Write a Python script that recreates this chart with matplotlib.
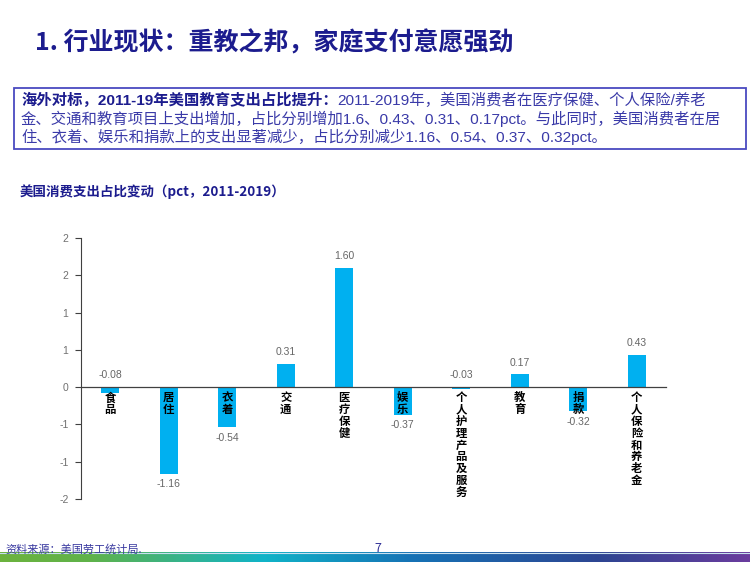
import matplotlib
matplotlib.use("Agg")
import matplotlib.pyplot as plt
import numpy as np
from matplotlib.colors import LinearSegmentedColormap
from matplotlib.patches import Rectangle

plt.rcParams['font.family'] = ['Noto Sans CJK SC', 'DejaVu Sans']
latin_cjk = ['Liberation Sans', 'Noto Sans CJK SC']

# ---- data ----
categories = ["食品", "居住", "衣着", "交通", "医疗保健", "娱乐",
              "个人护理产品及服务", "教育", "捐款", "个人保险和养老金"]
values = [-0.08, -1.16, -0.54, 0.31, 1.60, -0.37, -0.03, 0.17, -0.32, 0.43]
value_labels = ["-0.08", "-1.16", "-0.54", "0.31", "1.60", "-0.37",
                "-0.03", "0.17", "-0.32", "0.43"]
yticks = [2.0, 1.5, 1.0, 0.5, 0.0, -0.5, -1.0, -1.5]
ytick_labels = ["2", "2", "1", "1", "0", "-1", "-1", "-2"]

title = "1. 行业现状：重教之邦，家庭支付意愿强劲"
box_bold = "海外对标，2011-19年美国教育支出占比提升："
box_line1 = "2011-2019年，美国消费者在医疗保健、个人保险/养老"
box_line2 = "金、交通和教育项目上支出增加，占比分别增加1.6、0.43、0.31、0.17pct。与此同时，美国消费者在居"
box_line3 = "住、衣着、娱乐和捐款上的支出显著减少，占比分别减少1.16、0.54、0.37、0.32pct。"
subtitle = "美国消费支出占比变动（pct，2011-2019）"
source = "资料来源：美国劳工统计局."
page_no = "7"

W, H = 750, 562
fig = plt.figure(figsize=(7.5, 5.62), dpi=100)

def fx(px):
    return px / W

def fy(py):
    return 1 - py / H

navy = "#1c1c8e"
boxblue = "#3a3aa8"

# title
fig.text(fx(35), fy(43), title, fontsize=18, fontweight='bold', color=navy,
         va='center', ha='left')

# text box
fig.patches.append(Rectangle((fx(14), fy(149)), fx(746) - fx(14), fy(88) - fy(149),
                             transform=fig.transFigure, fill=False,
                             edgecolor="#4a4ac0", linewidth=1.3))
bfs = 11.05
t1 = fig.text(fx(21), fy(100), box_bold, fontsize=bfs, fontweight='bold',
              color=navy, va='center', ha='left', family=latin_cjk)
fig.canvas.draw()
r = fig.canvas.get_renderer()
bb = t1.get_window_extent(renderer=r)
fig.text(bb.x1 / W, fy(100), box_line1, fontsize=bfs, color=boxblue,
         va='center', ha='left', family=latin_cjk)
fig.text(fx(21), fy(119), box_line2, fontsize=bfs, color=boxblue,
         va='center', ha='left', family=latin_cjk)
fig.text(fx(21), fy(137), box_line3, fontsize=bfs, color=boxblue,
         va='center', ha='left', family=latin_cjk)

# subtitle
fig.text(fx(20), fy(192), subtitle, fontsize=9.7, fontweight='bold', color=navy,
         va='center', ha='left')

# chart axes
ax = fig.add_axes([fx(81), fy(499), fx(666) - fx(81), fy(238) - fy(499)])
x = np.arange(len(categories))
ax.bar(x, values, width=0.31, color="#00B0F0", zorder=2)
ax.set_xlim(-0.5, len(categories) - 0.5)
ax.set_ylim(-1.5, 2.0)
ax.set_yticks(yticks)
ax.set_yticklabels(ytick_labels, family='Liberation Sans')
ax.tick_params(axis='y', direction='out', length=4, width=0.8, colors="#404040",
               labelcolor="#707070", labelsize=7.5, pad=5)
ax.set_xticks([])
for s in ['top', 'right']:
    ax.spines[s].set_visible(False)
ax.spines['left'].set_color("#404040")
ax.spines['left'].set_linewidth(0.8)
ax.spines['bottom'].set_position(('data', 0))
ax.spines['bottom'].set_color("#404040")
ax.spines['bottom'].set_linewidth(0.9)
ax.spines['bottom'].set_zorder(3)
ax.patch.set_visible(False)

for xi, v, lab in zip(x, values, value_labels):
    if v >= 0 or abs(v) < 0.1:
        base = max(v, 0)
        ax.annotate(lab, (xi, base), xytext=(0, 5), textcoords='offset points',
                    ha='center', va='bottom', fontsize=7.5, color="#666666",
                    family='Liberation Sans')
    else:
        ax.annotate(lab, (xi, v), xytext=(0, -4), textcoords='offset points',
                    ha='center', va='top', fontsize=7.5, color="#666666",
                    family='Liberation Sans')

for xi, c in zip(x, categories):
    ax.annotate("\n".join(c), (xi, 0), xytext=(0, -3), textcoords='offset points',
                ha='center', va='top', fontsize=8.2, fontweight='bold',
                color="black", linespacing=0.88, zorder=4)

# footer gradient
gax = fig.add_axes([0, 0, 1, fy(552)])
cmap = LinearSegmentedColormap.from_list("g", [
    (0.0, "#6cb33e"), (0.12, "#5fb24a"), (0.35, "#10b4c8"),
    (0.55, "#1672b5"), (0.8, "#2d4592"), (1.0, "#6a3c9e")])
grad = np.linspace(0, 1, 512).reshape(1, -1)
gax.imshow(grad, aspect='auto', cmap=cmap, extent=[0, 1, 0, 1])
gax.axhline(0.95, color="#c8e0f0", linewidth=0.8)
gax.set_axis_off()

fig.text(fx(5), fy(549), source, fontsize=8, color="#3a3aa0",
         va='center', ha='left', zorder=5)
fig.text(fx(378), fy(548), page_no, fontsize=9, color="#333399",
         va='center', ha='center', zorder=5)

fig.savefig("out.png", dpi=100)
